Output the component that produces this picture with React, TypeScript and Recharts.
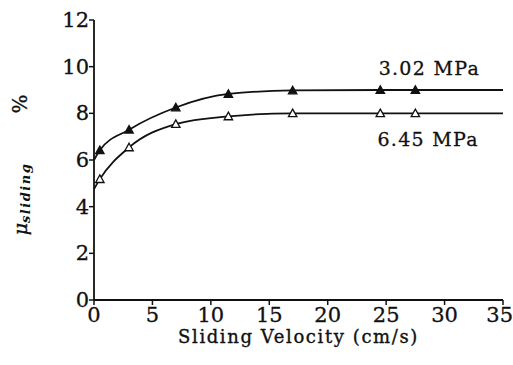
import React from 'react';
import { LineChart, Line, XAxis, YAxis, ReferenceDot, Label } from 'recharts';

// sliding velocity (cm/s), first and last are curve ends without a marker
const velocity = [0, 0.5, 3, 7, 11.5, 17, 24.5, 27.5, 35];
const mu302 = [6.0, 6.42, 7.3, 8.25, 8.83, 8.98, 9.0, 9.0, 9.0];
const mu645 = [4.75, 5.18, 6.54, 7.54, 7.87, 8.0, 8.0, 8.0, 8.0];
const measured = [false, true, true, true, true, true, true, true, false];

const xTicks = [0, 5, 10, 15, 20, 25, 30, 35];
const yTicks = [0, 2, 4, 6, 8, 10, 12];

const labels = [
  { text: '3.02 MPa', x: 28.7, y: 9.95 },
  { text: '6.45 MPa', x: 28.6, y: 6.9 },
];

const data = velocity.map((v, i) => ({ v, a: mu302[i], b: mu645[i], m: measured[i] }));

const FONT = '"DejaVu Serif", serif';
const INK = '#111';

const triangle = (filled: boolean) => (props: any) => {
  const { cx, cy, payload, index } = props;
  if (!payload || !payload.m) return <g key={`n-${index}`} />;
  const s = 4.2;
  return (
    <path
      key={`t-${index}`}
      d={`M${cx},${cy - s} L${cx + s},${cy + s * 0.8} L${cx - s},${cy + s * 0.8} Z`}
      fill={filled ? INK : '#fff'}
      stroke={INK}
      strokeWidth={1.3}
    />
  );
};

// last x label would run off the page, so pull it inward
const XTick = (props: any) => {
  const { x, y, payload } = props;
  const last = payload.value === 35;
  return (
    <text
      x={last ? 513 : x}
      y={y + 15}
      textAnchor={last ? 'end' : 'middle'}
      fill={INK}
      fontSize={21}
      fontFamily={FONT}
      stroke={INK}
      strokeWidth={0.3}
    >
      {payload.value}
    </text>
  );
};

const YTick = (props: any) => {
  const { x, y, payload } = props;
  return (
    <text x={x + 2} y={y} textAnchor="end" dominantBaseline="central" fill={INK} fontSize={21} fontFamily={FONT} stroke={INK} strokeWidth={0.3}>
      {payload.value}
    </text>
  );
};

const YTitle = () => (
  <g fontFamily={FONT} fill={INK}>
    <text x={21} y={104} transform="rotate(-90, 21, 104)" textAnchor="middle" dominantBaseline="middle" fontSize={20} stroke={INK} strokeWidth={0.3}>
      %
    </text>
    <text x={27} y={199} transform="rotate(-90, 27, 199)" textAnchor="middle">
      <tspan fontSize={19} fontStyle="italic" stroke={INK} strokeWidth={0.4}>μ</tspan>
      <tspan fontSize={13} fontStyle="italic" fontWeight="bold" letterSpacing={1.5} dy={3}>sliding</tspan>
    </text>
  </g>
);

export default function App() {
  return (
    <div style={{ position: 'absolute', left: 0, top: 0, width: 513, height: 365, background: '#fff' }}>
      <LineChart width={513} height={365} data={data} margin={{ top: 20, right: 10, bottom: 0, left: 0 }}>
        <XAxis
          dataKey="v"
          type="number"
          domain={[0, 35]}
          ticks={xTicks}
          height={65}
          axisLine={{ stroke: INK, strokeWidth: 1.8 }}
          tickLine={{ stroke: INK, strokeWidth: 1.5 }}
          tickSize={5}
          tick={<XTick />}
        >
          <Label
            value="Sliding Velocity (cm/s)"
            position="insideBottom"
            offset={22}
            style={{ fill: INK, fontSize: 18, fontFamily: FONT, letterSpacing: 1.6, stroke: INK, strokeWidth: 0.35 }}
          />
        </XAxis>
        <YAxis
          type="number"
          domain={[0, 12]}
          ticks={yTicks}
          width={94}
          axisLine={{ stroke: INK, strokeWidth: 1.8 }}
          tickLine={{ stroke: INK, strokeWidth: 1.5 }}
          tickSize={5}
          tick={<YTick />}
          label={<YTitle />}
        />
        <Line
          dataKey="a"
          type="monotone"
          stroke={INK}
          strokeWidth={1.8}
          dot={triangle(true)}
          activeDot={false}
          isAnimationActive={false}
        />
        <Line
          dataKey="b"
          type="monotone"
          stroke={INK}
          strokeWidth={1.8}
          dot={triangle(false)}
          activeDot={false}
          isAnimationActive={false}
        />
        {labels.map((l) => (
          <ReferenceDot
            key={l.text}
            x={l.x}
            y={l.y}
            r={0}
            stroke="none"
            fill="none"
            label={{ value: l.text, position: 'center', fill: INK, fontSize: 19, fontFamily: FONT, letterSpacing: 1.3, stroke: INK, strokeWidth: 0.3 }}
          />
        ))}
      </LineChart>
    </div>
  );
}
